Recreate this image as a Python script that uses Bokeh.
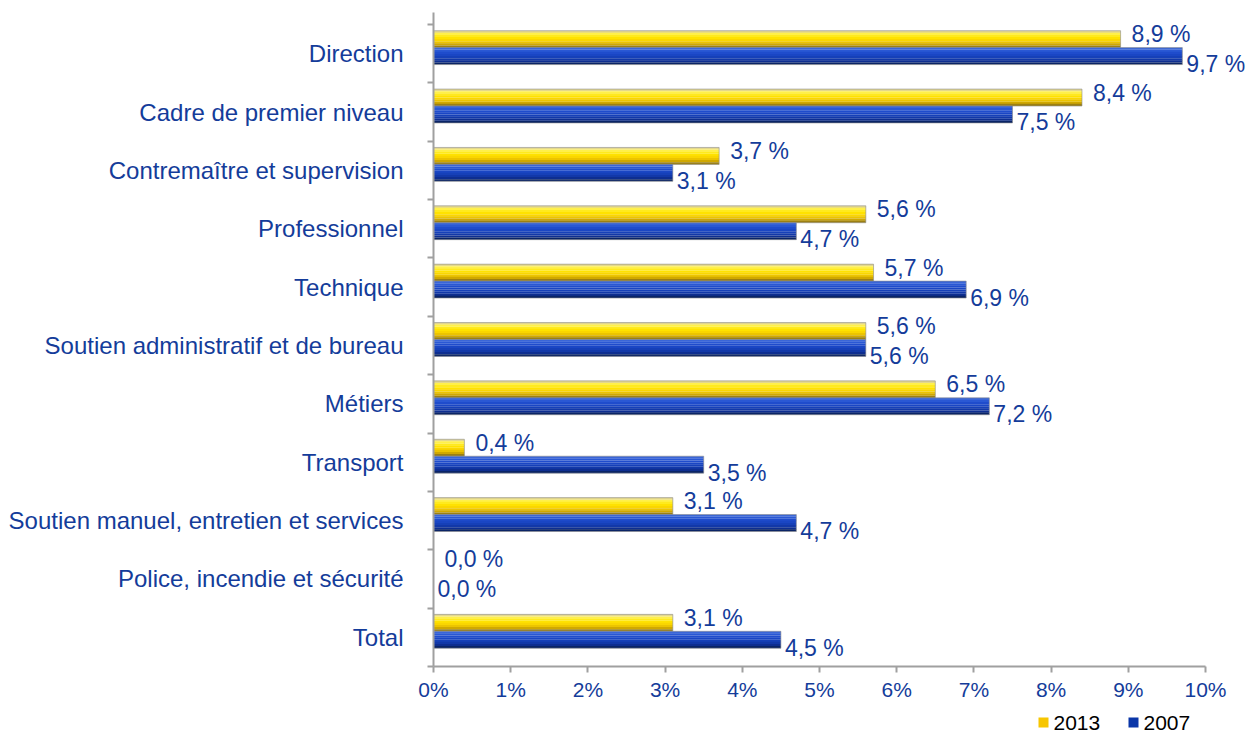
from bokeh.plotting import figure
from bokeh.layouts import column
from bokeh.models import Range1d, FixedTicker
from bokeh.embed import file_html
from bokeh.resources import INLINE
from bokeh.core.properties import value

categories = ["Direction", "Cadre de premier niveau", "Contremaître et supervision",
              "Professionnel", "Technique", "Soutien administratif et de bureau",
              "Métiers", "Transport", "Soutien manuel, entretien et services",
              "Police, incendie et sécurité", "Total"]
v2013 = [8.9, 8.4, 3.7, 5.6, 5.7, 5.6, 6.5, 0.4, 3.1, 0.0, 3.1]
v2007 = [9.7, 7.5, 3.1, 4.7, 6.9, 5.6, 7.2, 3.5, 4.7, 0.0, 4.5]
series_names = ["2013", "2007"]
series_colors = ["#f7c600", "#0a36a8"]
x_ticks = list(range(0, 11))
x_tick_labels = [f"{t}%" for t in x_ticks]

FONT = "Liberation Sans"
TXT = "#143c9a"
AXC = "#a0a0a0"

n = len(categories)
centers = [n - 1 - i for i in range(n)]
bounds = [k - 0.5 for k in range(n + 1)]

p = figure(width=1245, height=704, output_backend="svg", toolbar_location=None,
           x_range=Range1d(0, 10.518), y_range=Range1d(-0.5, 10.705),
           min_border_left=433, min_border_right=0, min_border_top=12, min_border_bottom=38)
p.outline_line_color = None
p.xgrid.visible = False
p.ygrid.visible = False

bar_h = 0.29
off13 = 0.248
off07 = -0.042

yellow_stripes = ["#e4d88c", "#fff04a", "#ffea1e", "#ffe200", "#fad600", "#ecc400", "#d0a800", "#9c8012"]
blue_stripes = ["#3a66d8", "#2a58d4", "#1f4ccc", "#1a46c4", "#1640b8", "#1238a8", "#0e2e90", "#0a2466"]
ns = len(yellow_stripes)
sh = bar_h / ns


def draw_series(vals, off, stripes):
    ys = [c + off for c in centers]
    for k, col in enumerate(stripes):
        yk = [y + bar_h / 2 - sh * (k + 0.5) for y in ys]
        p.hbar(y=yk, left=0, right=vals, height=sh * 1.05, fill_color=col, line_color=None)
    p.hbar(y=ys, left=0, right=vals, height=bar_h, fill_color=None, line_color="#8c8c8c",
           line_alpha=0.6, line_width=1)
    return ys


ys13 = draw_series(v2013, off13, yellow_stripes)
ys07 = draw_series(v2007, off07, blue_stripes)

lab13 = [f"{v:.1f} %".replace(".", ",") for v in v2013]
lab07 = [f"{v:.1f} %".replace(".", ",") for v in v2007]
p.text(x=v2013, y=ys13, text=lab13, x_offset=11, y_offset=-5, text_align="left",
       text_baseline="middle", text_color=TXT, text_font=value(FONT), text_font_size="23px")
p.text(x=v2007, y=ys07, text=lab07, x_offset=4, y_offset=8, text_align="left",
       text_baseline="middle", text_color=TXT, text_font=value(FONT), text_font_size="23px")

# y axis
ya = p.yaxis[0]
ya.ticker = FixedTicker(ticks=centers, minor_ticks=bounds)
ya.major_label_overrides = {c: categories[i] for i, c in enumerate(centers)}
ya.major_tick_line_color = None
ya.major_tick_out = 0
ya.major_tick_in = 0
ya.minor_tick_line_color = AXC
ya.minor_tick_line_width = 2
ya.minor_tick_out = 6
ya.minor_tick_in = 0
ya.axis_line_color = AXC
ya.axis_line_width = 2
ya.major_label_standoff = 24
ya.major_label_text_font = FONT
ya.major_label_text_font_size = "24px"
ya.major_label_text_color = TXT

# x axis
xa = p.xaxis[0]
xa.ticker = FixedTicker(ticks=x_ticks, minor_ticks=[])
xa.major_label_overrides = {t: x_tick_labels[i] for i, t in enumerate(x_ticks)}
xa.bounds = (0, 10)
xa.axis_line_color = AXC
xa.axis_line_width = 2
xa.major_tick_line_color = AXC
xa.major_tick_line_width = 2
xa.major_tick_out = 6
xa.major_tick_in = 0
xa.minor_tick_line_color = None
xa.major_label_standoff = 5
xa.major_label_text_font = FONT
xa.major_label_text_font_size = "21px"
xa.major_label_text_color = TXT

# legend strip below the chart (ranges mapped to page pixels, y pointing down)
p2 = figure(width=1245, height=32, output_backend="svg", toolbar_location=None,
            x_range=Range1d(433, 1245), y_range=Range1d(32, 0), x_axis_type=None, y_axis_type=None,
            min_border_left=433, min_border_right=0, min_border_top=0, min_border_bottom=0)
p2.outline_line_color = None
p2.xgrid.visible = False
p2.ygrid.visible = False
p2.quad(left=[1038, 1128], right=[1048, 1138], top=[13, 13], bottom=[23, 23],
        fill_color=series_colors, line_color=None)
p2.text(x=[1053, 1143], y=[18, 18], text=series_names, text_align="left", text_baseline="middle",
        text_color="#000000", text_font=value(FONT), text_font_size="21px")

layout = column(p, p2, spacing=0)
open("out.html", "w").write(file_html(layout, INLINE))
